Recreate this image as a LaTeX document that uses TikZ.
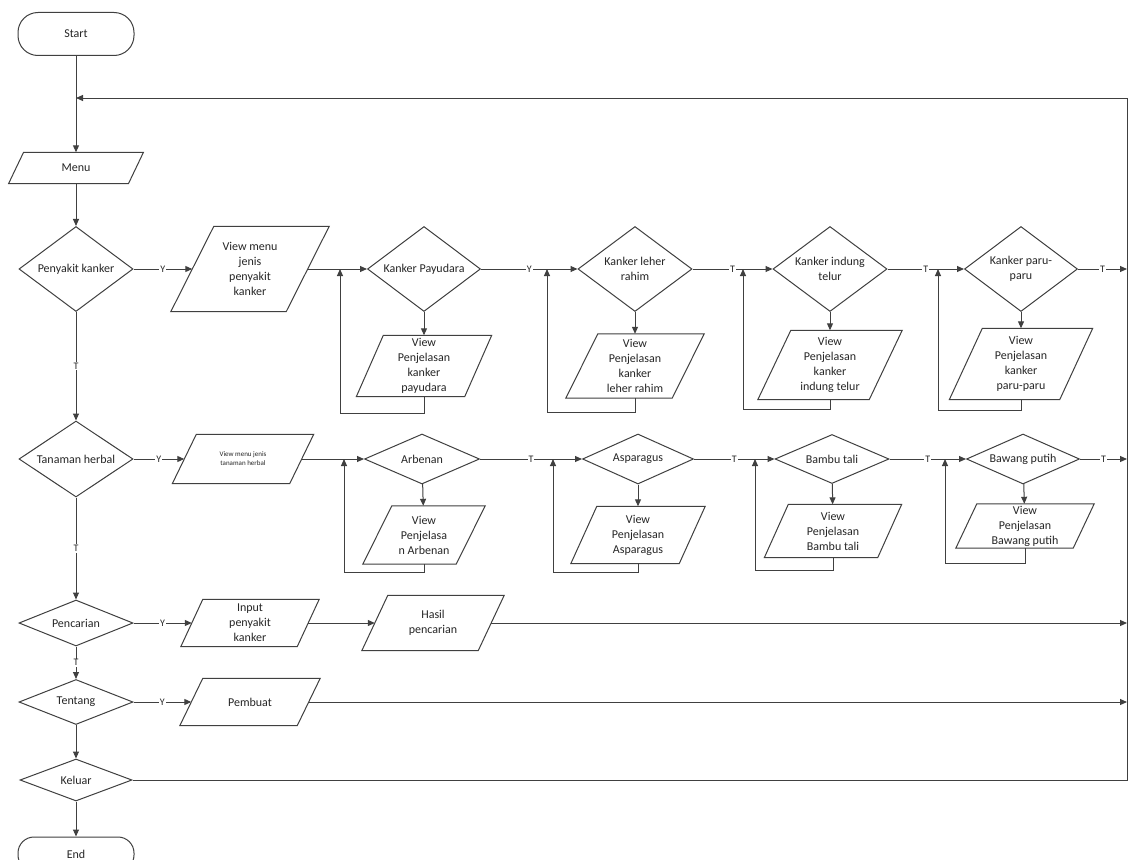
\documentclass[tikz,border=0pt]{standalone}
\usepackage{fontspec}
\setmainfont{Carlito}
\usetikzlibrary{shapes.geometric,arrows.meta}
\newcommand{\parashape}[2]{\draw[shapeline] ([xshift=#2pt]#1.north west) -- ([xshift=#2pt]#1.north east) -- ([xshift=-#2pt]#1.south east) -- ([xshift=-#2pt]#1.south west) -- cycle;}
\begin{document}
\begin{tikzpicture}[x=1pt,y=-1pt,
  shapeline/.style={draw=black!75, line width=1pt},
  conn/.style={draw=black!75, line width=1pt},
  arr/.style={conn, -{Triangle[length=7pt,width=6pt]}},
  txt/.style={font=\fontsize{12}{15}\selectfont, text=black!85, align=center},
  dec/.style n args={3}{diamond, shapeline, txt, inner sep=0pt, minimum width=#1, minimum height=#2, aspect=#3},
  para/.style 2 args={rectangle, inner sep=0pt, txt, minimum width=#1, minimum height=#2},
  term/.style={rectangle, rounded corners=20pt, shapeline, txt, minimum width=116pt, minimum height=43pt},
  lbl/.style={fill=white, inner sep=1pt, text=black!85, font=\fontsize{10}{10}\selectfont}
]
\fill[white] (0,0) rectangle (1129,859);
\useasboundingbox (0,0) rectangle (1129,859);

% main column
\node[term] (start) at (76,34) {Start};
\node[para={119.5}{31}] (menu) at (76,168) {Menu}; \parashape{menu}{7.5}
\node[dec={114}{85}{1.34}] (pk) at (76,269) {Penyakit kanker};
\node[dec={114}{76}{1.5}] (th) at (76,459) {Tanaman herbal};
\node[dec={114}{46}{2.5}] (pc) at (76,623) {Pencarian};
\node[dec={114}{45}{2.5}] (tt) at (76,702) {Tentang};
\node[dec={112}{42}{2.6}] (kel) at (76,780) {Keluar};
\node[term, minimum height=34pt, rounded corners=16pt] (end) at (76,854) {End};

% row 1
\node[para={115}{85}] (vmk) at (250,269) {View menu\\jenis\\penyakit\\kanker}; \parashape{vmk}{21.5}
\node[dec={113}{85}{1.34}] (kp) at (424,269) {Kanker Payudara};
\node[para={108}{61}] (vkp) at (424,366) {View\\Penjelasan\\kanker\\payudara}; \parashape{vkp}{13.5}
\node[dec={114}{85}{1.34}] (klr) at (635,269) {Kanker leher\\rahim};
\node[para={106}{64}] (vklr) at (635,366) {View\\Penjelasan\\kanker\\leher rahim}; \parashape{vklr}{16}
\node[dec={114}{85}{1.34}] (kit) at (830,269) {Kanker indung\\telur};
\node[para={111}{69}] (vkit) at (830,365) {View\\Penjelasan\\kanker\\indung telur}; \parashape{vkit}{16.5}
\node[dec={113}{85}{1.34}] (kpp) at (1021,269) {Kanker paru-\\paru};
\node[para={110}{71}] (vkpp) at (1021,364) {View\\Penjelasan\\kanker\\paru-paru}; \parashape{vkpp}{16.5}

% row 2
\node[para={117}{49}, font=\fontsize{7}{9}\selectfont] (vth) at (243,459) {View menu jenis\\tanaman herbal}; \parashape{vth}{12}
\node[dec={115}{50}{2.3}] (arb) at (422,459) {Arbenan};
\node[para={93}{58}] (varb) at (424,535) {View\\Penjelasa\\n Arbenan}; \parashape{varb}{14.5}
\node[dec={111}{50}{2.3}] (asp) at (638,459) {Asparagus};
\node[para={108}{57}] (vasp) at (638,535) {View\\Penjelasan\\Asparagus}; \parashape{vasp}{13}
\node[dec={114}{49}{2.3}] (bt) at (832,459) {Bambu tali};
\node[para={113}{53}] (vbt) at (833,531) {View\\Penjelasan\\Bambu tali}; \parashape{vbt}{12}
\node[dec={113}{50}{2.3}] (bp) at (1023,459) {Bawang putih};
\node[para={117}{44}] (vbp) at (1025,526) {View\\Penjelasan\\Bawang putih}; \parashape{vbp}{10.5}

% rows 3-4
\node[para={116}{47}] (vin) at (250,623) {Input\\penyakit\\kanker}; \parashape{vin}{11}
\node[para={116}{55}] (hasil) at (433,623) {Hasil\\pencarian}; \parashape{hasil}{13}
\node[para={117}{47}] (pemb) at (250,702) {Pembuat}; \parashape{pemb}{11.5}

% coordinates
\coordinate (rtop) at (1127,98);
\coordinate (ltop) at (76,98);
\coordinate (c1) at (340,413);
\coordinate (c2) at (547,412);
\coordinate (c3) at (743,409);
\coordinate (c4) at (938,410);
\coordinate (d1) at (344,572);
\coordinate (d2) at (553,572);
\coordinate (d3) at (755,570);
\coordinate (d4) at (945,563);

% main column connectors
\draw[arr] (start) -- (menu);
\draw[arr] (kel) -| (rtop) -- (ltop);
\draw[arr] (menu) -- (pk);
\draw[arr] (pk) -- node[lbl]{T} (th);
\draw[arr] (th) -- node[lbl]{T} (pc);
\draw[arr] (pc) -- node[lbl]{T} (tt);
\draw[arr] (tt) -- (kel);
\draw[arr] (kel) -- (end);

% row 1 connectors
\draw[arr] (pk) -- node[lbl]{Y} (vmk);
\draw[arr] (vmk) -- (kp);
\draw[arr] (kp) -- (vkp);
\draw[arr] (vkp.south) |- (c1) -- (c1 |- kp.west);
\draw[arr] (kp) -- node[lbl]{Y} (klr);
\draw[arr] (klr) -- (vklr);
\draw[arr] (vklr.south) |- (c2) -- (c2 |- klr.west);
\draw[arr] (klr) -- node[lbl]{T} (kit);
\draw[arr] (kit) -- (vkit);
\draw[arr] (vkit.south) |- (c3) -- (c3 |- kit.west);
\draw[arr] (kit) -- node[lbl]{T} (kpp);
\draw[arr] (kpp) -- (vkpp);
\draw[arr] (vkpp.south) |- (c4) -- (c4 |- kpp.west);
\draw[arr] (kpp) -- node[lbl]{T} (kpp.east -| rtop);

% row 2 connectors
\draw[arr] (th) -- node[lbl]{Y} (vth);
\draw[arr] (vth) -- (arb);
\draw[arr] (arb) -- (varb);
\draw[arr] (varb.south) |- (d1) -- (d1 |- arb.west);
\draw[arr] (arb) -- node[lbl]{T} (asp);
\draw[arr] (asp) -- (vasp);
\draw[arr] (vasp.south) |- (d2) -- (d2 |- asp.west);
\draw[arr] (asp) -- node[lbl]{T} (bt);
\draw[arr] (bt) -- (vbt);
\draw[arr] (vbt.south) |- (d3) -- (d3 |- bt.west);
\draw[arr] (bt) -- node[lbl]{T} (bp);
\draw[arr] (bp) -- (vbp);
\draw[arr] (vbp.south) |- (d4) -- (d4 |- bp.west);
\draw[arr] (bp) -- node[lbl]{T} (bp.east -| rtop);

% rows 3-4 connectors
\draw[arr] (pc) -- node[lbl]{Y} (vin);
\draw[arr] (vin) -- (hasil);
\draw[arr] (hasil) -- (hasil.east -| rtop);
\draw[arr] (tt) -- node[lbl]{Y} (pemb);
\draw[arr] (pemb) -- (pemb.east -| rtop);
\end{tikzpicture}
\end{document}
